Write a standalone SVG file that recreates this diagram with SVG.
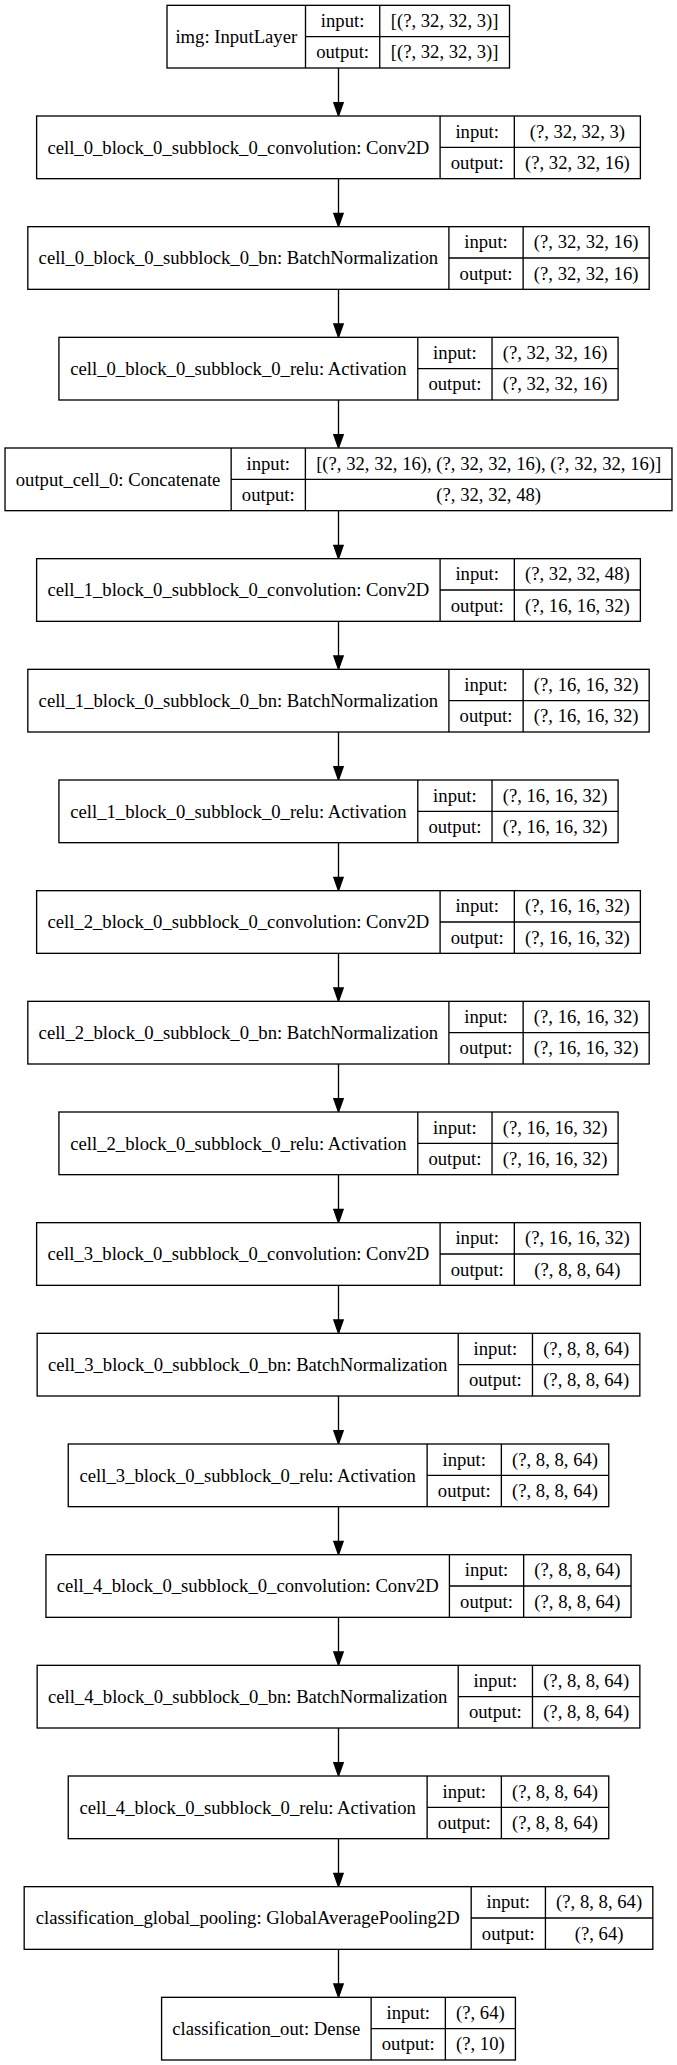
<svg xmlns="http://www.w3.org/2000/svg" width="677" height="2065" viewBox="0 0 677 2065">
<style>
.b{fill:#fff;stroke:#000;stroke-width:1.33}
.l{stroke:#000;stroke-width:1.33;fill:none}
text{font-family:"Liberation Serif","Times New Roman",serif;font-size:18.67px;text-anchor:middle;fill:#000}
</style>
<defs>
<marker id="arr" markerUnits="userSpaceOnUse" markerWidth="14" markerHeight="10" refX="0" refY="4.67" orient="auto" viewBox="0 0 14 10" overflow="visible">
<path d="M0,0 L13.33,4.67 L0,9.33 Z" fill="#000" stroke="#000" stroke-width="1.33"/>
</marker>
</defs>
<rect width="677" height="2065" fill="#fff"/>
<g id="edges">
<path class="l" marker-end="url(#arr)" d="M338.5,68 V102.67"/>
<path class="l" marker-end="url(#arr)" d="M338.5,178.67 V213.33"/>
<path class="l" marker-end="url(#arr)" d="M338.5,289.33 V324"/>
<path class="l" marker-end="url(#arr)" d="M338.5,400 V434.67"/>
<path class="l" marker-end="url(#arr)" d="M338.5,510.67 V545.33"/>
<path class="l" marker-end="url(#arr)" d="M338.5,621.33 V656"/>
<path class="l" marker-end="url(#arr)" d="M338.5,732 V766.67"/>
<path class="l" marker-end="url(#arr)" d="M338.5,842.67 V877.33"/>
<path class="l" marker-end="url(#arr)" d="M338.5,953.33 V988"/>
<path class="l" marker-end="url(#arr)" d="M338.5,1064 V1098.67"/>
<path class="l" marker-end="url(#arr)" d="M338.5,1174.67 V1209.33"/>
<path class="l" marker-end="url(#arr)" d="M338.5,1285.33 V1320"/>
<path class="l" marker-end="url(#arr)" d="M338.5,1396 V1430.67"/>
<path class="l" marker-end="url(#arr)" d="M338.5,1506.67 V1541.33"/>
<path class="l" marker-end="url(#arr)" d="M338.5,1617.33 V1652"/>
<path class="l" marker-end="url(#arr)" d="M338.5,1728 V1762.67"/>
<path class="l" marker-end="url(#arr)" d="M338.5,1838.67 V1873.33"/>
<path class="l" marker-end="url(#arr)" d="M338.5,1949.33 V1984"/>
</g>
<g id="img" transform="translate(167,5.33)">
<rect class="b" width="342.5" height="62.67"/>
<path class="l" d="M138.5,0 V62.67 M212.74,0 V62.67 M138.5,31.33 H342.5"/>
<text x="69.25" y="37.5">img: InputLayer</text>
<text x="175.62" y="21.8">input:</text><text x="175.62" y="53">output:</text>
<text x="277.62" y="21.8">[(?, 32, 32, 3)]</text><text x="277.62" y="53">[(?, 32, 32, 3)]</text>
</g>
<g id="cell_0_conv" transform="translate(36.62,116)">
<rect class="b" width="603.76" height="62.67"/>
<path class="l" d="M403.47,0 V62.67 M477.71,0 V62.67 M403.47,31.33 H603.76"/>
<text x="201.74" y="37.5">cell_0_block_0_subblock_0_convolution: Conv2D</text>
<text x="440.59" y="21.8">input:</text><text x="440.59" y="53">output:</text>
<text x="540.74" y="21.8">(?, 32, 32, 3)</text><text x="540.74" y="53">(?, 32, 32, 16)</text>
</g>
<g id="cell_0_bn" transform="translate(27.82,226.67)">
<rect class="b" width="621.37" height="62.67"/>
<path class="l" d="M421.08,0 V62.67 M495.32,0 V62.67 M421.08,31.33 H621.37"/>
<text x="210.54" y="37.5">cell_0_block_0_subblock_0_bn: BatchNormalization</text>
<text x="458.2" y="21.8">input:</text><text x="458.2" y="53">output:</text>
<text x="558.35" y="21.8">(?, 32, 32, 16)</text><text x="558.35" y="53">(?, 32, 32, 16)</text>
</g>
<g id="cell_0_relu" transform="translate(58.92,337.33)">
<rect class="b" width="559.16" height="62.67"/>
<path class="l" d="M358.87,0 V62.67 M433.11,0 V62.67 M358.87,31.33 H559.16"/>
<text x="179.44" y="37.5">cell_0_block_0_subblock_0_relu: Activation</text>
<text x="395.99" y="21.8">input:</text><text x="395.99" y="53">output:</text>
<text x="496.14" y="21.8">(?, 32, 32, 16)</text><text x="496.14" y="53">(?, 32, 32, 16)</text>
</g>
<g id="output_cell_0" transform="translate(5.03,448)">
<rect class="b" width="666.95" height="62.67"/>
<path class="l" d="M226.12,0 V62.67 M300.36,0 V62.67 M226.12,31.33 H666.95"/>
<text x="113.06" y="37.5">output_cell_0: Concatenate</text>
<text x="263.24" y="21.8">input:</text><text x="263.24" y="53">output:</text>
<text x="483.66" y="21.8">[(?, 32, 32, 16), (?, 32, 32, 16), (?, 32, 32, 16)]</text><text x="483.66" y="53">(?, 32, 32, 48)</text>
</g>
<g id="cell_1_conv" transform="translate(36.62,558.67)">
<rect class="b" width="603.76" height="62.67"/>
<path class="l" d="M403.47,0 V62.67 M477.71,0 V62.67 M403.47,31.33 H603.76"/>
<text x="201.74" y="37.5">cell_1_block_0_subblock_0_convolution: Conv2D</text>
<text x="440.59" y="21.8">input:</text><text x="440.59" y="53">output:</text>
<text x="540.74" y="21.8">(?, 32, 32, 48)</text><text x="540.74" y="53">(?, 16, 16, 32)</text>
</g>
<g id="cell_1_bn" transform="translate(27.82,669.33)">
<rect class="b" width="621.37" height="62.67"/>
<path class="l" d="M421.08,0 V62.67 M495.32,0 V62.67 M421.08,31.33 H621.37"/>
<text x="210.54" y="37.5">cell_1_block_0_subblock_0_bn: BatchNormalization</text>
<text x="458.2" y="21.8">input:</text><text x="458.2" y="53">output:</text>
<text x="558.35" y="21.8">(?, 16, 16, 32)</text><text x="558.35" y="53">(?, 16, 16, 32)</text>
</g>
<g id="cell_1_relu" transform="translate(58.92,780)">
<rect class="b" width="559.16" height="62.67"/>
<path class="l" d="M358.87,0 V62.67 M433.11,0 V62.67 M358.87,31.33 H559.16"/>
<text x="179.44" y="37.5">cell_1_block_0_subblock_0_relu: Activation</text>
<text x="395.99" y="21.8">input:</text><text x="395.99" y="53">output:</text>
<text x="496.14" y="21.8">(?, 16, 16, 32)</text><text x="496.14" y="53">(?, 16, 16, 32)</text>
</g>
<g id="cell_2_conv" transform="translate(36.62,890.67)">
<rect class="b" width="603.76" height="62.67"/>
<path class="l" d="M403.47,0 V62.67 M477.71,0 V62.67 M403.47,31.33 H603.76"/>
<text x="201.74" y="37.5">cell_2_block_0_subblock_0_convolution: Conv2D</text>
<text x="440.59" y="21.8">input:</text><text x="440.59" y="53">output:</text>
<text x="540.74" y="21.8">(?, 16, 16, 32)</text><text x="540.74" y="53">(?, 16, 16, 32)</text>
</g>
<g id="cell_2_bn" transform="translate(27.82,1001.33)">
<rect class="b" width="621.37" height="62.67"/>
<path class="l" d="M421.08,0 V62.67 M495.32,0 V62.67 M421.08,31.33 H621.37"/>
<text x="210.54" y="37.5">cell_2_block_0_subblock_0_bn: BatchNormalization</text>
<text x="458.2" y="21.8">input:</text><text x="458.2" y="53">output:</text>
<text x="558.35" y="21.8">(?, 16, 16, 32)</text><text x="558.35" y="53">(?, 16, 16, 32)</text>
</g>
<g id="cell_2_relu" transform="translate(58.92,1112)">
<rect class="b" width="559.16" height="62.67"/>
<path class="l" d="M358.87,0 V62.67 M433.11,0 V62.67 M358.87,31.33 H559.16"/>
<text x="179.44" y="37.5">cell_2_block_0_subblock_0_relu: Activation</text>
<text x="395.99" y="21.8">input:</text><text x="395.99" y="53">output:</text>
<text x="496.14" y="21.8">(?, 16, 16, 32)</text><text x="496.14" y="53">(?, 16, 16, 32)</text>
</g>
<g id="cell_3_conv" transform="translate(36.62,1222.67)">
<rect class="b" width="603.76" height="62.67"/>
<path class="l" d="M403.47,0 V62.67 M477.71,0 V62.67 M403.47,31.33 H603.76"/>
<text x="201.74" y="37.5">cell_3_block_0_subblock_0_convolution: Conv2D</text>
<text x="440.59" y="21.8">input:</text><text x="440.59" y="53">output:</text>
<text x="540.74" y="21.8">(?, 16, 16, 32)</text><text x="540.74" y="53">(?, 8, 8, 64)</text>
</g>
<g id="cell_3_bn" transform="translate(37.15,1333.33)">
<rect class="b" width="602.71" height="62.67"/>
<path class="l" d="M421.08,0 V62.67 M495.32,0 V62.67 M421.08,31.33 H602.71"/>
<text x="210.54" y="37.5">cell_3_block_0_subblock_0_bn: BatchNormalization</text>
<text x="458.2" y="21.8">input:</text><text x="458.2" y="53">output:</text>
<text x="549.02" y="21.8">(?, 8, 8, 64)</text><text x="549.02" y="53">(?, 8, 8, 64)</text>
</g>
<g id="cell_3_relu" transform="translate(68.25,1444)">
<rect class="b" width="540.5" height="62.67"/>
<path class="l" d="M358.87,0 V62.67 M433.11,0 V62.67 M358.87,31.33 H540.5"/>
<text x="179.44" y="37.5">cell_3_block_0_subblock_0_relu: Activation</text>
<text x="395.99" y="21.8">input:</text><text x="395.99" y="53">output:</text>
<text x="486.81" y="21.8">(?, 8, 8, 64)</text><text x="486.81" y="53">(?, 8, 8, 64)</text>
</g>
<g id="cell_4_conv" transform="translate(45.95,1554.67)">
<rect class="b" width="585.1" height="62.67"/>
<path class="l" d="M403.47,0 V62.67 M477.71,0 V62.67 M403.47,31.33 H585.1"/>
<text x="201.74" y="37.5">cell_4_block_0_subblock_0_convolution: Conv2D</text>
<text x="440.59" y="21.8">input:</text><text x="440.59" y="53">output:</text>
<text x="531.41" y="21.8">(?, 8, 8, 64)</text><text x="531.41" y="53">(?, 8, 8, 64)</text>
</g>
<g id="cell_4_bn" transform="translate(37.15,1665.33)">
<rect class="b" width="602.71" height="62.67"/>
<path class="l" d="M421.08,0 V62.67 M495.32,0 V62.67 M421.08,31.33 H602.71"/>
<text x="210.54" y="37.5">cell_4_block_0_subblock_0_bn: BatchNormalization</text>
<text x="458.2" y="21.8">input:</text><text x="458.2" y="53">output:</text>
<text x="549.02" y="21.8">(?, 8, 8, 64)</text><text x="549.02" y="53">(?, 8, 8, 64)</text>
</g>
<g id="cell_4_relu" transform="translate(68.25,1776)">
<rect class="b" width="540.5" height="62.67"/>
<path class="l" d="M358.87,0 V62.67 M433.11,0 V62.67 M358.87,31.33 H540.5"/>
<text x="179.44" y="37.5">cell_4_block_0_subblock_0_relu: Activation</text>
<text x="395.99" y="21.8">input:</text><text x="395.99" y="53">output:</text>
<text x="486.81" y="21.8">(?, 8, 8, 64)</text><text x="486.81" y="53">(?, 8, 8, 64)</text>
</g>
<g id="classification_global_pooling" transform="translate(24.18,1886.67)">
<rect class="b" width="628.64" height="62.67"/>
<path class="l" d="M447.01,0 V62.67 M521.25,0 V62.67 M447.01,31.33 H628.64"/>
<text x="223.5" y="37.5">classification_global_pooling: GlobalAveragePooling2D</text>
<text x="484.13" y="21.8">input:</text><text x="484.13" y="53">output:</text>
<text x="574.95" y="21.8">(?, 8, 8, 64)</text><text x="574.95" y="53">(?, 64)</text>
</g>
<g id="classification_out" transform="translate(161.59,1997.33)">
<rect class="b" width="353.82" height="62.67"/>
<path class="l" d="M209.53,0 V62.67 M283.77,0 V62.67 M209.53,31.33 H353.82"/>
<text x="104.77" y="37.5">classification_out: Dense</text>
<text x="246.65" y="21.8">input:</text><text x="246.65" y="53">output:</text>
<text x="318.8" y="21.8">(?, 64)</text><text x="318.8" y="53">(?, 10)</text>
</g>
</svg>
